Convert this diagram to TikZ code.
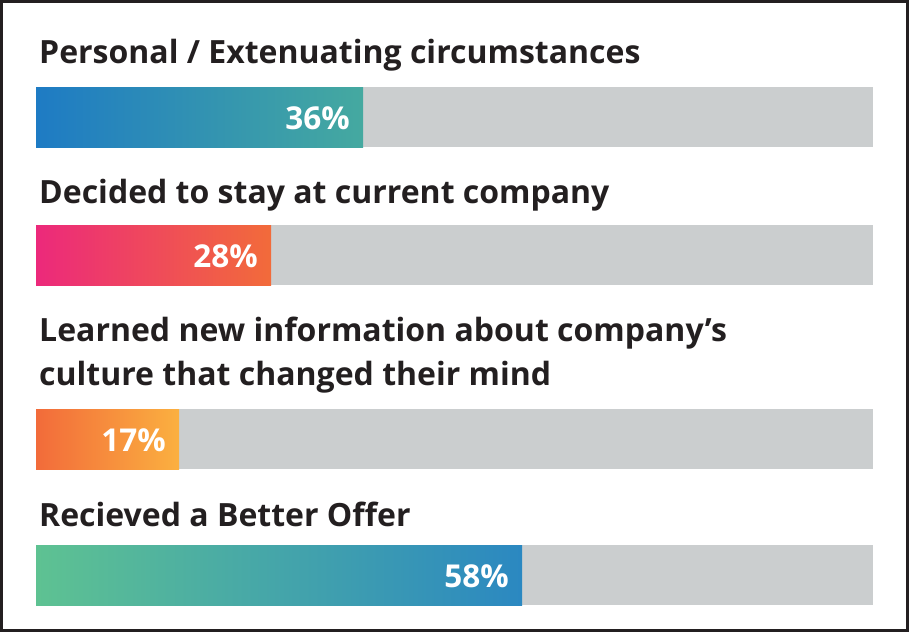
\documentclass[tikz,border=0pt]{standalone}
\usepackage{fontspec}
\setmainfont{Open Sans}
\definecolor{ink}{HTML}{231F20}
\definecolor{track}{HTML}{CBCECF}
\definecolor{blueA}{HTML}{1E7BC4}
\definecolor{tealA}{HTML}{45A9A0}
\definecolor{pinkB}{HTML}{EC297B}
\definecolor{orangeB}{HTML}{F26B3A}
\definecolor{orangeC}{HTML}{F26B3A}
\definecolor{yellowC}{HTML}{FBB040}
\definecolor{greenD}{HTML}{5EC292}
\definecolor{tealD}{HTML}{45B3A0}
\definecolor{blueD}{HTML}{2B88C1}
\tikzset{
  title/.style={anchor=base west, inner sep=0pt, text=ink, font=\fontsize{32}{44}\selectfont\bfseries},
  pct/.style={anchor=base east, inner sep=0pt, text=white, font=\fontsize{31.5}{36}\selectfont\bfseries},
}
\begin{document}
\begin{tikzpicture}[x=1pt,y=-1pt]
\useasboundingbox (0,0) rectangle (909,632);
\fill[white] (0,0) rectangle (909,632);
\draw[ink, line width=2.6pt] (1.3,1.3) rectangle (907.2,630.7);
% titles
\node[title] (t1) at (39,63) {Personal / Extenuating circumstances};
\node[title] (t2) at (39,203) {Decided to stay at current company};
\node[title] (t3a) at (39,341) {Learned new information about company’s};
\node[title] (t3b) at (39,385) {culture that changed their mind};
\node[title] (t4) at (39,526) {Recieved a Better Offer};
% tracks
\fill[track] (36,87) rectangle (873,147);
\fill[track] (36,225) rectangle (873,285);
\fill[track] (36,409) rectangle (873,469);
\fill[track] (36,545) rectangle (873,605);
% bars
\shade[left color=blueA, right color=tealA] (36,87) rectangle (363,147);
\shade[left color=pinkB, right color=orangeB] (36,225) rectangle (271,285);
\shade[left color=orangeC, right color=yellowC] (36,409) rectangle (179,469);
\shade[left color=greenD, middle color=tealD, right color=blueD] (36,545) rectangle (522,605);
% labels
\node[pct] (p1) at (350,129) {36\%};
\node[pct] (p2) at (258,267) {28\%};
\node[pct] (p3) at (166,451) {17\%};
\node[pct] (p4) at (509,587) {58\%};
\end{tikzpicture}
\end{document}
